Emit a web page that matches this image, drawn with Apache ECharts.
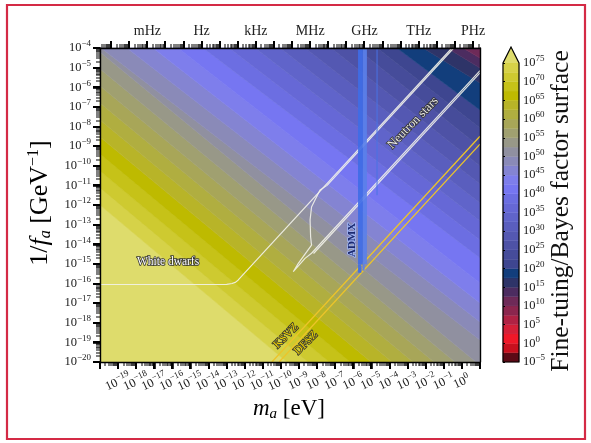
<!DOCTYPE html>
<html><head><meta charset="utf-8">
<script src="https://cdn.jsdelivr.net/npm/echarts@6/dist/echarts.min.js"></script>
<style>html,body{margin:0;padding:0;background:#fff}#c{width:591px;height:443px}</style>
</head><body><div id="c"></div>
<script>
// ---------- data ----------
const massExponents = [-20,-19,-18,-17,-16,-15,-14,-13,-12,-11,-10,-9,-8,-7,-6,-5,-4,-3,-2,-1,0,1];
const couplingExponents = [-20,-19,-18,-17,-16,-15,-14,-13,-12,-11,-10,-9,-8,-7,-6,-5,-4];
const colorbarExponents = [-5,0,5,10,15,20,25,30,35,40,45,50,55,60,65,70,75];
const freqUnits = ['mHz','Hz','kHz','MHz','GHz','THz','PHz'];
const freqLog10Hz = [-3,0,3,6,9,12,15];
const planckEvPerHz = 4.135667e-15;

// colour levels of the colorbar (lower bound of each 2.5-decade band)
const bandLevels = [-5,-2.5,0,2.5,5,7.5,10,12.5,15,17.5,20,22.5,25,27.5,30,32.5,35,37.5,40,42.5,45,47.5,50,52.5,55,57.5,60,62.5,65,67.5,70,72.5];
const bandColors = ['#5C0A16','#C8101E','#F01828','#D42038','#B02244','#8C264E','#6E2A58','#4C2C60','#2E3468','#123E7C',
  '#3E4690','#464C9A','#4E52A6','#5458B2','#5A5EBE','#6064CA','#6668D6','#6C6EE2','#7676F2','#7E7EEC',
  '#8484D2','#8A8AB8','#9090A0','#989888','#A0A070','#A8A658','#B0AE40','#B8B428','#BEBA00','#C6C218','#CECA30','#D6D248'];
const overColor = '#DEDC6C';

// contour lines of the surface (log10 level), end points in (log10 m_a, log10 1/f_a)
const contourLevels = [75,72.5,70,67.5,65,62.5,60,57.5,55,52.5,50,47.5,45,42.5,40,37.5,35,32.5,30,27.5,25,22.5,20,17.5,15,12.5];
const contourUpperLeft = [[-20,-12.0],[-20,-11.13],[-20,-10.27],[-20,-9.40],[-20,-8.54],[-20,-7.67],[-20,-6.80],[-20,-5.94],[-20,-5.07],[-20,-4.20],
  [-19.94,-4],[-18.51,-4],[-17.07,-4],[-15.69,-4],[-14.31,-4],[-12.87,-4],[-11.43,-4],[-10.05,-4],[-8.67,-4],[-7.23,-4],[-5.85,-4],[-4.69,-4],[-3.59,-4],[-2.15,-4],[-0.82,-4],[0.06,-4]];
const contourLowerRight = [[-9.67,-20],[-8.51,-20],[-7.34,-20],[-6.18,-20],[-5.02,-20],[-3.86,-20],[-2.70,-20],[-1.54,-20],[-0.38,-20],[0.78,-20],
  [1,-18.88],[1,-17.96],[1,-16.99],[1,-15.97],[1,-14.70],[1,-13.78],[1,-12.82],[1,-11.90],[1,-10.93],[1,-10.01],[1,-9.04],[1,-8.08],[1,-7.16],[1,-5.78],[1,-5.02],[1,-4.51]];

// constraint curves
const whiteDwarfs = [[-20,-16.05],[-13.4,-16.05],[-13.0,-16.04],[-12.7,-16.0],[-12.5,-15.93],[-12.36,-15.82],[-0.55,-4]];
const neutronStars = [[-0.45,-4],[-7.45,-11.0],[-7.84,-11.24],[-8.12,-11.75],[-8.31,-12.10],[-8.39,-12.76],[-8.36,-13.63],[-8.31,-14.04],
  [-8.58,-14.39],[-9.04,-14.97],[-9.32,-15.40],[-9.22,-15.31],[-8.67,-14.72],[-8.31,-14.46],[1,-5.15]];
const neutronStarsInner = [[-8.2,-14.47],[1,-5.27]];
const ksvz = [[-10.5,-20],[1,-8.5]];
const dfsz = [[-10.1,-20],[1,-8.9]];
// ADMX exclusion: [m_min, m_max, coupling_min, coupling_max]
const admx = [[-5.74,-5.47,-15.05,-4],[-5.47,-5.25,-15.0,-4],[-5.74,-5.56,-15.45,-15.05],[-5.47,-5.38,-15.35,-15.0]];
const admxThin = [[-4.69,-11.5],[-4.69,-4]];

const annotationTexts = ['White dwarfs','Neutron stars','ADMX','KSVZ','DFSZ'];
const annotationAt = [[-16.24,-14.90],[-2.70,-7.82],[-6.07,-13.78],[-9.72,-18.68],[-8.62,-19.03]];

// ---------- styles ----------
const F = "'Liberation Serif','DejaVu Serif',serif";
const MINUS = '\u2212';
const annotationStyle = [
  {rot:0, fill:'#ffffff', stroke:'#333', size:11.5, weight:'normal'},
  {rot:46, fill:'#e6e6e6', stroke:'#333', size:12.5, weight:'normal'},
  {rot:90, fill:'#1c2a70', stroke:'#9fb4f4', size:11, weight:'bold'},
  {rot:45, fill:'#f2d400', stroke:'#333', size:11.5, weight:'normal'},
  {rot:45, fill:'#f2d400', stroke:'#333', size:11.5, weight:'normal'}
];

function powLabel(e){ return '{b|10}{s|' + String(Math.round(e)).replace('-', MINUS) + '}'; }
const powRich = {
  b:{fontSize:12.5,fontFamily:F,color:'#1a1a1a'},
  s:{fontSize:9,fontFamily:F,color:'#1a1a1a',padding:[0,0,8,0]}
};
function minorOf(decades, lo, hi){
  const out = [];
  for (let a = 0; a < decades.length; a++) {
    for (let j = 2; j <= 9; j++) { const v = decades[a] + Math.log(j) / Math.LN10; if (v > lo && v < hi) out.push(v); }
  }
  return out;
}
const xMin = massExponents[0], xMax = massExponents[massExponents.length-1];
const yMin = couplingExponents[0], yMax = couplingExponents[couplingExponents.length-1];
const hzOffset = Math.log(planckEvPerHz) / Math.LN10;
const freqDecadesM = [];
for (let k = -6; k <= 16; k++) freqDecadesM.push(hzOffset + k);
const freqLabelM = freqLog10Hz.map(f => hzOffset + f);

const bottomMinor = minorOf(massExponents.concat([xMin-1]), xMin, xMax);
const topMajor = freqDecadesM.filter(v => v >= xMin && v <= xMax);
const topMinor = minorOf(freqDecadesM, xMin, xMax);
const leftMinor = minorOf(couplingExponents.concat([yMin-1]), yMin, yMax);

// a slightly larger overlay grid (same scale) so the outward ticks lie inside its drawing area
const PLOT = {left:100, top:48, width:380, height:314};
const PAD = 8;
const xUnitPx = PLOT.width / (xMax - xMin), yUnitPx = PLOT.height / (yMax - yMin);
const tickGridX = [xMin - PAD / xUnitPx, xMax + PAD / xUnitPx];
const tickGridY = [yMin - PAD / yUnitPx, yMax + PAD / yUnitPx];

function colorFor(v){
  if (v >= 75) return overColor;
  for (let i = bandLevels.length - 1; i >= 0; i--) if (v >= bandLevels[i]) return bandColors[i];
  return bandColors[0];
}
function clipHalf(poly, p1, p2, sign){
  const f = q => sign*((p2[0]-p1[0])*(q[1]-p1[1]) - (p2[1]-p1[1])*(q[0]-p1[0]));
  const out = [];
  for (let i = 0; i < poly.length; i++){
    const cur = poly[i], prev = poly[(i + poly.length - 1) % poly.length];
    const fc = f(cur), fp = f(prev);
    const cut = () => { const t = fp/(fp-fc); return [prev[0]+t*(cur[0]-prev[0]), prev[1]+t*(cur[1]-prev[1])]; };
    if (fc >= 0) { if (fp < 0) out.push(cut()); out.push(cur); }
    else if (fp >= 0) out.push(cut());
  }
  return out;
}
const NC = contourLevels.length;
const bandItems = [];
for (let k = 0; k <= NC; k++) bandItems.push([k]);

function renderBand(params, api){
  const k = api.value(0);
  let poly = [[xMin,yMin],[xMax,yMin],[xMax,yMax],[xMin,yMax]];
  if (k > 0) poly = clipHalf(poly, contourUpperLeft[k-1], contourLowerRight[k-1], 1);
  if (k < NC) poly = clipHalf(poly, contourUpperLeft[k], contourLowerRight[k], -1);
  if (poly.length < 3) return null;
  const c = k === 0 ? overColor : colorFor(contourLevels[k-1] - 1.25);
  return {type:'polygon', shape:{points: poly.map(p => api.coord(p))}, style:{fill:c, stroke:c, lineWidth:0.6}};
}
function renderTicks(params, api){
  const kids = [];
  const add = (x, y, w, h) => kids.push({type:'rect', shape:{x:x, y:y, width:w, height:h}, style:{fill:'#000'}});
  const yb = api.coord([xMin, yMin])[1], yt = api.coord([xMin, yMax])[1], xl = api.coord([xMin, yMin])[0];
  bottomMinor.forEach(v => { const x = Math.round(api.coord([v, yMin])[0]); add(x - 0.5, yb, 1, 4); });
  massExponents.forEach(v => { const x = Math.round(api.coord([v, yMin])[0]); add(x - 1, yb, 2, 7); });
  topMinor.forEach(v => { const x = Math.round(api.coord([v, yMax])[0]); add(x - 0.5, yt - 4, 1, 4); });
  topMajor.forEach(v => { const x = Math.round(api.coord([v, yMax])[0]); add(x - 1, yt - 7, 2, 7); });
  leftMinor.forEach(v => { const y = Math.round(api.coord([xMin, v])[1]); add(xl - 4, y - 0.5, 4, 1); });
  couplingExponents.forEach(v => { const y = Math.round(api.coord([xMin, v])[1]); add(xl - 7, y - 1, 7, 2); });
  return {type:'group', children:kids};
}
function renderCb(params, api){
  const i = api.value(0);
  const a = api.coord([0, bandLevels[i] + 2.5]), b = api.coord([1, bandLevels[i]]);
  return {type:'rect', shape:{x:a[0], y:a[1], width:b[0]-a[0], height:b[1]-a[1]}, style:{fill:bandColors[i], stroke:bandColors[i], lineWidth:0.4}};
}
function renderCbFrame(params, api){
  const p0 = api.coord([0, 75]), p1 = api.coord([1, 75]);
  const q0 = api.coord([0, -5]), q1 = api.coord([1, -5]);
  const apex = [(p0[0]+p1[0])/2, p0[1] - 16];
  return {type:'group', children:[
    {type:'polygon', shape:{points:[p0, p1, apex]}, style:{fill:overColor}},
    {type:'polygon', shape:{points:[q0, q1, p1, apex, p0]}, style:{fill:'none', stroke:'#000', lineWidth:1.2}}
  ]};
}
function renderAdmx(params, api){
  const i = params.dataIndex;
  const a = api.coord([api.value(0), api.value(3)]), b = api.coord([api.value(1), api.value(2)]);
  const col = (i === 1 || i === 3) ? '#5A80EA' : '#3F6DE6';
  return {type:'rect', shape:{x:a[0], y:a[1], width:b[0]-a[0], height:b[1]-a[1]}, style:{fill:col, opacity:0.92}};
}
function renderText(params, api){
  const i = params.dataIndex, s = annotationStyle[i];
  const p = api.coord([api.value(0), api.value(1)]);
  return {type:'text', x:p[0], y:p[1], rotation: s.rot*Math.PI/180,
    style:{text: annotationTexts[i], fill:s.fill, stroke:s.stroke, lineWidth:1.6,
      fontSize:s.size, fontFamily:F, fontWeight:s.weight, align:'center', verticalAlign:'middle'}};
}
const lineStyleW = {color:'#f2f2ea', width:1.2, opacity:0.9};
function lineSeries(data, style, z){
  return {type:'line', xAxisIndex:0, yAxisIndex:0, data:data, showSymbol:false, symbol:'none', lineStyle:style, z:z, silent:true, animation:false};
}
const axLine = {show:true, onZero:false, lineStyle:{color:'#000', width:1.4}};
const noSplit = {show:false};

const chart = echarts.init(document.getElementById('c'), null, {renderer:'canvas'});
chart.setOption({
  animation:false,
  backgroundColor:'#fff',
  grid:[
    {left:PLOT.left, top:PLOT.top, width:PLOT.width, height:PLOT.height, outerBoundsMode:'none', containLabel:false},
    {left:503, top:63, width:16, height:299, outerBoundsMode:'none', containLabel:false},
    {left:PLOT.left - PAD, top:PLOT.top - PAD, width:PLOT.width + 2*PAD, height:PLOT.height + 2*PAD, outerBoundsMode:'none', containLabel:false}
  ],
  xAxis:[
    {gridIndex:0, type:'value', position:'bottom', min:xMin, max:xMax, interval:1, z:10, axisLine:axLine,
      axisTick:{show:true, length:7, lineStyle:{color:'#000', width:1.6}},
      axisLabel:{show:true, rotate:25, align:'center', verticalAlign:'middle', margin:20, formatter:v=>powLabel(v), rich:powRich},
      splitLine:noSplit},
    {gridIndex:0, type:'value', position:'top', min:xMin, max:xMax, z:10, axisLine:axLine,
      axisTick:{show:false},
      axisLabel:{show:true, customValues:freqLabelM, margin:10, fontSize:14, fontFamily:F, color:'#222',
        formatter:v=>{let bi=0; freqLabelM.forEach((m,i)=>{ if (Math.abs(m-v) < Math.abs(freqLabelM[bi]-v)) bi=i; }); return freqUnits[bi];}},
      splitLine:noSplit},
    {gridIndex:1, type:'value', min:0, max:1, show:false},
    {gridIndex:2, type:'value', min:tickGridX[0], max:tickGridX[1], show:false}
  ],
  yAxis:[
    {gridIndex:0, type:'value', position:'left', min:yMin, max:yMax, interval:1, z:10, axisLine:axLine,
      axisTick:{show:true, length:7, lineStyle:{color:'#000', width:1.6}},
      axisLabel:{show:true, margin:9, formatter:v=>powLabel(v), rich:powRich}, splitLine:noSplit},
    {gridIndex:0, type:'value', position:'right', min:yMin, max:yMax, z:10, axisLine:axLine,
      axisTick:{show:false}, axisLabel:{show:false}, splitLine:noSplit},
    {gridIndex:1, type:'value', position:'right', min:colorbarExponents[0], max:colorbarExponents[colorbarExponents.length-1], interval:5, z:10,
      axisLine:{show:false}, axisTick:{show:true, length:2, lineStyle:{color:'#000', width:1}},
      axisLabel:{show:true, margin:4, formatter:v=>powLabel(v), rich:powRich}, splitLine:noSplit},
    {gridIndex:2, type:'value', min:tickGridY[0], max:tickGridY[1], show:false}
  ],
  series:[
    {type:'custom', xAxisIndex:0, yAxisIndex:0, data:bandItems, renderItem:renderBand, z:1, silent:true, animation:false},
    lineSeries(whiteDwarfs, lineStyleW, 3),
    lineSeries(neutronStars, lineStyleW, 3),
    lineSeries(neutronStarsInner, lineStyleW, 3),
    lineSeries(ksvz, {color:'#ECC42A', width:1.3}, 3),
    lineSeries(dfsz, {color:'#ECC42A', width:1.3}, 3),
    {type:'custom', xAxisIndex:0, yAxisIndex:0, data:admx, renderItem:renderAdmx, z:4, silent:true, animation:false},
    lineSeries(admxThin, {color:'#4A72E4', width:1}, 4),
    {type:'custom', xAxisIndex:0, yAxisIndex:0, data:annotationAt, renderItem:renderText, z:6, silent:true, animation:false},
    {type:'custom', xAxisIndex:3, yAxisIndex:3, data:[[-10,-12]], renderItem:renderTicks, z:20, silent:true, animation:false},
    {type:'custom', xAxisIndex:2, yAxisIndex:2, data:bandLevels.map((l,i)=>[i]), renderItem:renderCb, z:1, silent:true, animation:false},
    {type:'custom', xAxisIndex:2, yAxisIndex:2, data:[[0]], renderItem:renderCbFrame, z:3, silent:true, animation:false}
  ],
  graphic:[
    {type:'rect', shape:{x:7, y:5, width:578, height:434}, style:{fill:'none', stroke:'#D42A45', lineWidth:2.2}, z:100},
    {type:'text', x:289, y:409, z:100, style:{text:'{i|m}{sub|a}{n| [eV]}', align:'center', verticalAlign:'middle',
      rich:{i:{fontSize:23, fontFamily:F, fontStyle:'italic', color:'#111'}, sub:{fontSize:15, fontFamily:F, fontStyle:'italic', color:'#111', padding:[10,0,0,0]}, n:{fontSize:23, fontFamily:F, color:'#111'}}}},
    {type:'text', x:40, y:203, rotation:Math.PI/2, z:100, style:{text:'{n|1/}{i|f}{sub|a}{n| [GeV}{sup|' + MINUS + '1}{n|]}', align:'center', verticalAlign:'middle',
      rich:{i:{fontSize:26, fontFamily:F, fontStyle:'italic', color:'#111'}, sub:{fontSize:16, fontFamily:F, fontStyle:'italic', color:'#111', padding:[11,0,0,0]},
        sup:{fontSize:16, fontFamily:F, color:'#111', padding:[0,0,13,0]}, n:{fontSize:26, fontFamily:F, color:'#111'}}}},
    {type:'text', x:561, y:211, rotation:Math.PI/2, z:100, style:{text:'Fine-tuing/Bayes factor surface', fontSize:25.5, fontFamily:F, fill:'#111', align:'center', verticalAlign:'middle'}}
  ]
});
</script>
</body></html>
